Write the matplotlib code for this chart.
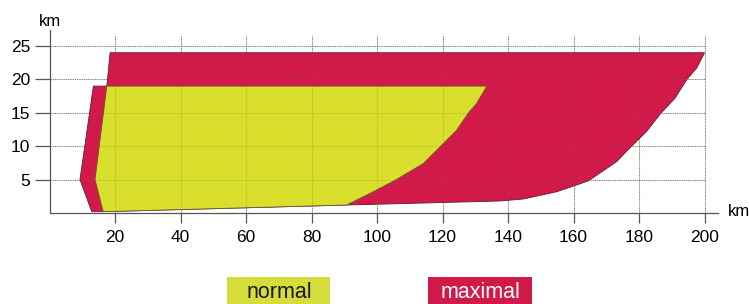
import matplotlib.pyplot as plt
from matplotlib.patches import Rectangle

plt.rcParams['font.family'] = ['Liberation Sans', 'DejaVu Sans']

# outline of the "maximal" area (km along, km high)
max_x = [18.5, 200.0, 197.6, 194.6, 191.0, 186.4, 182.3, 177.3, 173.2, 164.5, 155.0, 144.7, 137.6,
         91.0, 16.4, 12.9, 9.3, 13.4, 17.5]
max_y = [24.0, 24.0, 21.7, 20.0, 17.2, 14.8, 12.2, 9.8, 7.7, 4.8, 3.2, 2.1, 1.8,
         1.2, 0.2, 0.2, 5.0, 19.0, 19.0]

# outline of the "normal" area
norm_x = [17.5, 133.5, 130.4, 127.9, 124.3, 119.2, 114.1, 105.5, 98.9, 92.8, 90.7, 16.4, 13.9]
norm_y = [19.0, 19.0, 16.4, 15.0, 12.4, 9.9, 7.4, 4.9, 3.2, 1.7, 1.2, 0.2, 5.0]

xticks = [20, 40, 60, 80, 100, 120, 140, 160, 180, 200]
yticks = [5, 10, 15, 20, 25]

red = '#d21a4a'
yellow = '#d9df2c'

fig = plt.figure(figsize=(7.49, 3.04), dpi=100)
ax = fig.add_axes([0.0661, 0.2993, 0.8925, 0.602])
ax.set_xlim(0, 204.1)
ax.set_ylim(0, 27.4)

# dotted grid
ax.vlines(xticks, 0, 26.6, colors='#8a8a8a', linestyles=(0, (1, 1)), linewidth=0.8, zorder=1)
ax.hlines(yticks, 0, 200, colors='#8a8a8a', linestyles=(0, (1, 1)), linewidth=0.8, zorder=1)

ax.fill(max_x, max_y, facecolor=red, edgecolor='#5a2030', linewidth=0.6, zorder=2)
ax.fill(norm_x, norm_y, facecolor=yellow, edgecolor='#6a5a30', linewidth=0.6, zorder=3)

# grid faintly visible through the filled areas
ax.vlines(xticks, 0, 26.6, colors='#6a6a40', linestyles=(0, (1, 1)), linewidth=0.5, alpha=0.5, zorder=4)
ax.hlines(yticks, 0, 200, colors='#6a6a40', linestyles=(0, (1, 1)), linewidth=0.5, alpha=0.5, zorder=4)

for s in ['top', 'right']:
    ax.spines[s].set_visible(False)
for s in ['left', 'bottom']:
    ax.spines[s].set_color('#555555')
    ax.spines[s].set_linewidth(0.9)

ax.set_xticks(xticks)
ax.set_yticks(yticks)
ax.tick_params(axis='y', length=11, width=0.9, color='#555555', labelsize=12.5, pad=3)
ax.tick_params(axis='x', length=7, width=0.9, color='#555555', labelsize=12.5, pad=5)

ax.text(0, 28.7, 'km', ha='center', va='center', fontsize=12, clip_on=False)
ax.text(210.5, 0.2, 'km', ha='center', va='center', fontsize=12, clip_on=False)

# legend boxes
fig.patches.append(Rectangle((227 / 749, 0), 103 / 749, 27 / 304, transform=fig.transFigure,
                             facecolor='#d6dc3a', edgecolor='none'))
fig.patches.append(Rectangle((428 / 749, 0), 104 / 749, 27 / 304, transform=fig.transFigure,
                             facecolor=red, edgecolor='none'))
fig.text(279 / 749, 11 / 304, 'normal', ha='center', va='center', fontsize=15.5, color='#1a1a1a')
fig.text(480 / 749, 11 / 304, 'maximal', ha='center', va='center', fontsize=15.5, color='white')

fig.savefig('out.png', dpi=100)
